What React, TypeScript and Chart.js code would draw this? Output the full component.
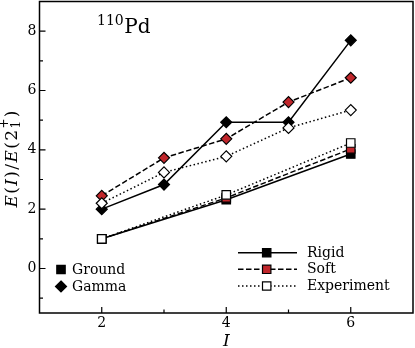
import React, { useEffect, useRef } from "react";
import { Chart, registerables } from "chart.js";

Chart.register(...registerables);

const groundI = [2, 4, 6];
const groundRigid = [1.0, 2.32, 3.86];
const groundSoft = [1.0, 2.38, 4.03];
const groundExp = [1.0, 2.48, 4.23];

const gammaI = [2, 3, 4, 5, 6];
const gammaRigid = [2.0, 2.83, 4.93, 4.93, 7.69];
const gammaSoft = [2.45, 3.73, 4.37, 5.61, 6.43];
const gammaExp = [2.2, 3.24, 3.78, 4.74, 5.34];

const xMajorTicks = [2, 4, 6];
const xMinorTicks = [3, 5];
const yMajorTicks = [0, 2, 4, 6, 8];
const yMinorTicks = [-1, 1, 3, 5, 7];

const RED = "#c0262b";
const SERIF = "'DejaVu Serif', serif";
const DASHED = [5.5, 2.5];
const DOTTED = [1.5, 2.5];

const pts = (xs: number[], ys: number[]) => xs.map((x, i) => ({ x, y: ys[i] }));

function drawMarker(ctx: CanvasRenderingContext2D, style: string, x: number, y: number, fill: string) {
  ctx.save();
  ctx.setLineDash([]);
  ctx.fillStyle = fill;
  ctx.strokeStyle = "#000";
  ctx.lineWidth = 1.2;
  ctx.beginPath();
  if (style === "rect") {
    const s = 4.2;
    ctx.rect(x - s, y - s, 2 * s, 2 * s);
  } else {
    const r = 5.5;
    ctx.moveTo(x, y - r);
    ctx.lineTo(x + r, y);
    ctx.lineTo(x, y + r);
    ctx.lineTo(x - r, y);
    ctx.closePath();
  }
  ctx.fill();
  ctx.stroke();
  ctx.restore();
}

const decorPlugin = {
  id: "decor",
  afterDraw(chart: any) {
    const ctx: CanvasRenderingContext2D = chart.ctx;
    const { left, right, top, bottom } = chart.chartArea;
    const xs = chart.scales.x;
    const ys = chart.scales.y;
    ctx.save();
    // frame
    ctx.strokeStyle = "#000";
    ctx.lineWidth = 1.5;
    ctx.setLineDash([]);
    ctx.strokeRect(left, top, right - left, bottom - top);
    // inward ticks
    ctx.lineWidth = 1.2;
    ctx.beginPath();
    xMajorTicks.forEach((v) => {
      const px = xs.getPixelForValue(v);
      ctx.moveTo(px, bottom);
      ctx.lineTo(px, bottom - 6);
    });
    xMinorTicks.forEach((v) => {
      const px = xs.getPixelForValue(v);
      ctx.moveTo(px, bottom);
      ctx.lineTo(px, bottom - 3.5);
    });
    yMajorTicks.forEach((v) => {
      const py = ys.getPixelForValue(v);
      ctx.moveTo(left, py);
      ctx.lineTo(left + 6, py);
    });
    yMinorTicks.forEach((v) => {
      const py = ys.getPixelForValue(v);
      ctx.moveTo(left, py);
      ctx.lineTo(left + 3.5, py);
    });
    ctx.stroke();

    ctx.fillStyle = "#000";
    // tick labels
    ctx.font = `14px ${SERIF}`;
    ctx.textAlign = "center";
    ctx.textBaseline = "top";
    xMajorTicks.forEach((v) => {
      ctx.fillText(String(v), xs.getPixelForValue(v), bottom + 3);
    });
    ctx.textAlign = "right";
    ctx.textBaseline = "middle";
    yMajorTicks.forEach((v) => {
      ctx.fillText(String(v), left - 3, ys.getPixelForValue(v));
    });

    ctx.textBaseline = "alphabetic";
    ctx.textAlign = "left";
    // title 110Pd
    ctx.font = `14px ${SERIF}`;
    ctx.fillText("110", 97, 25);
    const w110 = ctx.measureText("110").width;
    ctx.font = `20px ${SERIF}`;
    ctx.fillText("Pd", 97 + w110 + 0.5, 33);

    // x axis title
    ctx.font = `italic 17px ${SERIF}`;
    ctx.textAlign = "center";
    ctx.fillText("I", xs.getPixelForValue(4), 346);

    // y axis title
    ctx.save();
    ctx.translate(16.5, 159);
    ctx.rotate(-Math.PI / 2);
    const F = 17;
    const runs: { t: string; f: string }[] = [
      { t: "E", f: `italic ${F}px ${SERIF}` },
      { t: "(", f: `${F}px ${SERIF}` },
      { t: "I", f: `italic ${F}px ${SERIF}` },
      { t: ")", f: `${F}px ${SERIF}` },
      { t: "/", f: `${F}px ${SERIF}` },
      { t: "E", f: `italic ${F}px ${SERIF}` },
      { t: "(", f: `${F}px ${SERIF}` },
      { t: "2", f: `${F}px ${SERIF}` },
    ];
    let total = 0;
    runs.forEach((r) => {
      ctx.font = r.f;
      total += ctx.measureText(r.t).width;
    });
    ctx.font = `12px ${SERIF}`;
    const subW = Math.max(ctx.measureText("1").width, ctx.measureText("+").width);
    ctx.font = `${F}px ${SERIF}`;
    total += subW + ctx.measureText(")").width;
    const target = 97;
    const gap = Math.max(0, (target - total) / (runs.length + 1));
    let cx = -target / 2;
    ctx.textAlign = "left";
    runs.forEach((r) => {
      ctx.font = r.f;
      ctx.fillText(r.t, cx, 0);
      cx += ctx.measureText(r.t).width + gap;
    });
    ctx.font = `12px ${SERIF}`;
    ctx.fillText("1", cx, 3);
    ctx.fillText("+", cx, -9);
    cx += subW + gap;
    ctx.font = `${F}px ${SERIF}`;
    ctx.fillText(")", cx, 0);
    ctx.restore();

    // legend: marker types
    ctx.font = `14px ${SERIF}`;
    ctx.textAlign = "left";
    ctx.textBaseline = "middle";
    drawMarker(ctx, "rect", 61, 269.5, "#000");
    ctx.fillStyle = "#000";
    ctx.fillText("Ground", 72, 270);
    drawMarker(ctx, "rectRot", 61, 286.5, "#000");
    ctx.fillStyle = "#000";
    ctx.fillText("Gamma", 72, 287);

    // legend: line types
    const rows = [
      { label: "Rigid", dash: [] as number[], fill: "#000", y: 252.7 },
      { label: "Soft", dash: DASHED, fill: RED, y: 269.3 },
      { label: "Experiment", dash: DOTTED, fill: "#fff", y: 286 },
    ];
    rows.forEach((r) => {
      ctx.save();
      ctx.strokeStyle = "#000";
      ctx.lineWidth = 1.5;
      ctx.setLineDash(r.dash);
      ctx.beginPath();
      ctx.moveTo(238, r.y);
      ctx.lineTo(297, r.y);
      ctx.stroke();
      ctx.restore();
      drawMarker(ctx, "rect", 266.7, r.y, r.fill);
      ctx.fillStyle = "#000";
      ctx.fillText(r.label, 307, r.y + 0.5);
    });
    ctx.restore();
  },
};

function ds(data: any[], dash: number[], style: string, fill: string) {
  return {
    data,
    borderColor: "#000",
    borderWidth: 1.5,
    borderDash: dash,
    pointStyle: style,
    pointRadius: style === "rect" ? 6 : 5.5,
    pointHoverRadius: style === "rect" ? 6 : 5.5,
    pointBackgroundColor: fill,
    pointBorderColor: "#000",
    pointBorderWidth: 1.2,
    fill: false,
    tension: 0,
  };
}

export default function App() {
  const ref = useRef<HTMLCanvasElement | null>(null);
  useEffect(() => {
    if (!ref.current) return;
    const chart = new Chart(ref.current, {
      type: "line",
      data: {
        datasets: [
          ds(pts(groundI, groundExp), DOTTED, "rect", "#fff"),
          ds(pts(groundI, groundSoft), DASHED, "rect", RED),
          ds(pts(groundI, groundRigid), [], "rect", "#000"),
          ds(pts(gammaI, gammaExp), DOTTED, "rectRot", "#fff"),
          ds(pts(gammaI, gammaSoft), DASHED, "rectRot", RED),
          ds(pts(gammaI, gammaRigid), [], "rectRot", "#000"),
        ] as any,
      },
      options: {
        animation: false,
        responsive: true,
        maintainAspectRatio: false,
        layout: { autoPadding: false, padding: { top: 1.5, right: 2, left: 0, bottom: 0 } },
        plugins: { legend: { display: false }, tooltip: { enabled: false } },
        scales: {
          x: {
            type: "linear",
            min: 1,
            max: 7,
            grid: { display: false, drawTicks: false },
            border: { display: false },
            afterFit: (s: any) => {
              s.height = 35;
              s.paddingLeft = 0;
              s.paddingRight = 0;
            },
            ticks: { display: false },
          },
          y: {
            type: "linear",
            min: -1.5,
            max: 9,
            grid: { display: false, drawTicks: false },
            border: { display: false },
            afterFit: (s: any) => {
              s.width = 39.5;
              s.paddingTop = 0;
              s.paddingBottom = 0;
            },
            ticks: { display: false },
          },
        },
      } as any,
      plugins: [decorPlugin],
    });
    return () => chart.destroy();
  }, []);
  return (
    <div style={{ position: "fixed", left: 0, top: 0, width: 415, height: 348, background: "#fff" }}>
      <canvas ref={ref} />
    </div>
  );
}
